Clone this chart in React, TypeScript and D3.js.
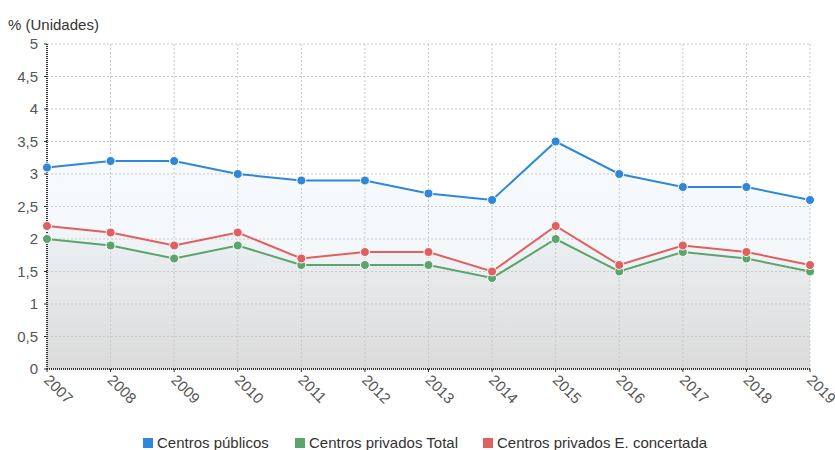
import React from "react";
import * as d3 from "d3";

const years = ["2007","2008","2009","2010","2011","2012","2013","2014","2015","2016","2017","2018","2019"];
const publicos = [3.1, 3.2, 3.2, 3.0, 2.9, 2.9, 2.7, 2.6, 3.5, 3.0, 2.8, 2.8, 2.6];
const privadosTotal = [2.0, 1.9, 1.7, 1.9, 1.6, 1.6, 1.6, 1.4, 2.0, 1.5, 1.8, 1.7, 1.5];
const privadosConcertada = [2.2, 2.1, 1.9, 2.1, 1.7, 1.8, 1.8, 1.5, 2.2, 1.6, 1.9, 1.8, 1.6];
const yTicks = [0, 0.5, 1, 1.5, 2, 2.5, 3, 3.5, 4, 4.5, 5];
const seriesNames = ["Centros públicos", "Centros privados Total", "Centros privados E. concertada"];
const colors = ["#2f87d9", "#5ba56c", "#e05f5f"];

export default function App() {
  const W = 835, H = 450;
  const left = 47, right = 810, top = 44, bottom = 369;
  const x = d3.scalePoint<string>().domain(years).range([left, right]);
  const y = d3.scaleLinear().domain([0, 5]).range([bottom, top]);
  const font = "'Liberation Sans', Arial, sans-serif";
  const data = [publicos, privadosTotal, privadosConcertada];
  const line = d3.line<number>().x((_, i) => x(years[i])!).y(d => y(d));
  const area = d3.area<number>().x((_, i) => x(years[i])!).y0(y(0)).y1(d => y(d));
  const fmt = (v: number) => String(v).replace(".", ",");
  const legendX = [143, 295, 483];

  return (
    <svg width={W} height={H} style={{ position: "absolute", left: 0, top: 0, background: "#fff" }} fontFamily={font}>
      <defs>
        <linearGradient id="gBlue" gradientUnits="userSpaceOnUse" x1="0" y1={top} x2="0" y2={bottom}>
          <stop offset="0" stopColor="#2f87d9" stopOpacity="0.02" />
          <stop offset="0.5" stopColor="#2f87d9" stopOpacity="0.05" />
          <stop offset="1" stopColor="#000" stopOpacity="0.04" />
        </linearGradient>
        <linearGradient id="gGrey" gradientUnits="userSpaceOnUse" x1="0" y1={top} x2="0" y2={bottom}>
          <stop offset="0.4" stopColor="#000" stopOpacity="0.0" />
          <stop offset="1" stopColor="#000" stopOpacity="0.055" />
        </linearGradient>
      </defs>
      <text x={8} y={30} fontSize={15} fill="#333">% (Unidades)</text>
      <path d={area(publicos)!} fill="url(#gBlue)" />
      <path d={area(privadosConcertada)!} fill="url(#gGrey)" />
      <path d={area(privadosTotal)!} fill="url(#gGrey)" />
      {yTicks.map(t => (
        <line key={"h" + t} x1={left} x2={right} y1={y(t)} y2={y(t)} stroke="#c8c8c8" strokeDasharray="2,2" />
      ))}
      {years.map(yr => (
        <line key={"v" + yr} x1={x(yr)} x2={x(yr)} y1={top} y2={bottom} stroke="#c8c8c8" strokeDasharray="2,2" />
      ))}
      <line x1={left} x2={left} y1={top} y2={bottom} stroke="#333" strokeWidth={2} strokeDasharray="1,1" />
      <line x1={left} x2={right} y1={bottom} y2={bottom} stroke="#333" strokeWidth={2} strokeDasharray="1,1" />
      {yTicks.map(t => (
        <g key={"yt" + t}>
          <line x1={left - 3} x2={left} y1={y(t)} y2={y(t)} stroke="#333" />
          <text x={38} y={y(t) + 5} textAnchor="end" fontSize={15} fill="#555">{fmt(t)}</text>
        </g>
      ))}
      {years.map(yr => (
        <g key={"xt" + yr}>
          <line x1={x(yr)} x2={x(yr)} y1={bottom} y2={bottom + 3} stroke="#333" />
          <text transform={`translate(${x(yr)! - 4},${bottom + 12}) rotate(45)`} fontSize={15} fill="#555">{yr}</text>
        </g>
      ))}
      {[1, 2, 0].map(si => (
        <g key={"s" + si}>
          <path d={line(data[si])!} fill="none" stroke={colors[si]} strokeWidth={2} />
          {data[si].map((v, i) => (
            <circle key={i} cx={x(years[i])} cy={y(v)} r={4.5} fill={colors[si]} stroke="#fff" strokeWidth={1} />
          ))}
        </g>
      ))}
      {seriesNames.map((n, i) => (
        <g key={"l" + i}>
          <rect x={legendX[i]} y={438} width={10} height={10} fill={colors[i]} />
          <text x={legendX[i] + 14} y={448} fontSize={15} fill="#333">{n}</text>
        </g>
      ))}
    </svg>
  );
}
